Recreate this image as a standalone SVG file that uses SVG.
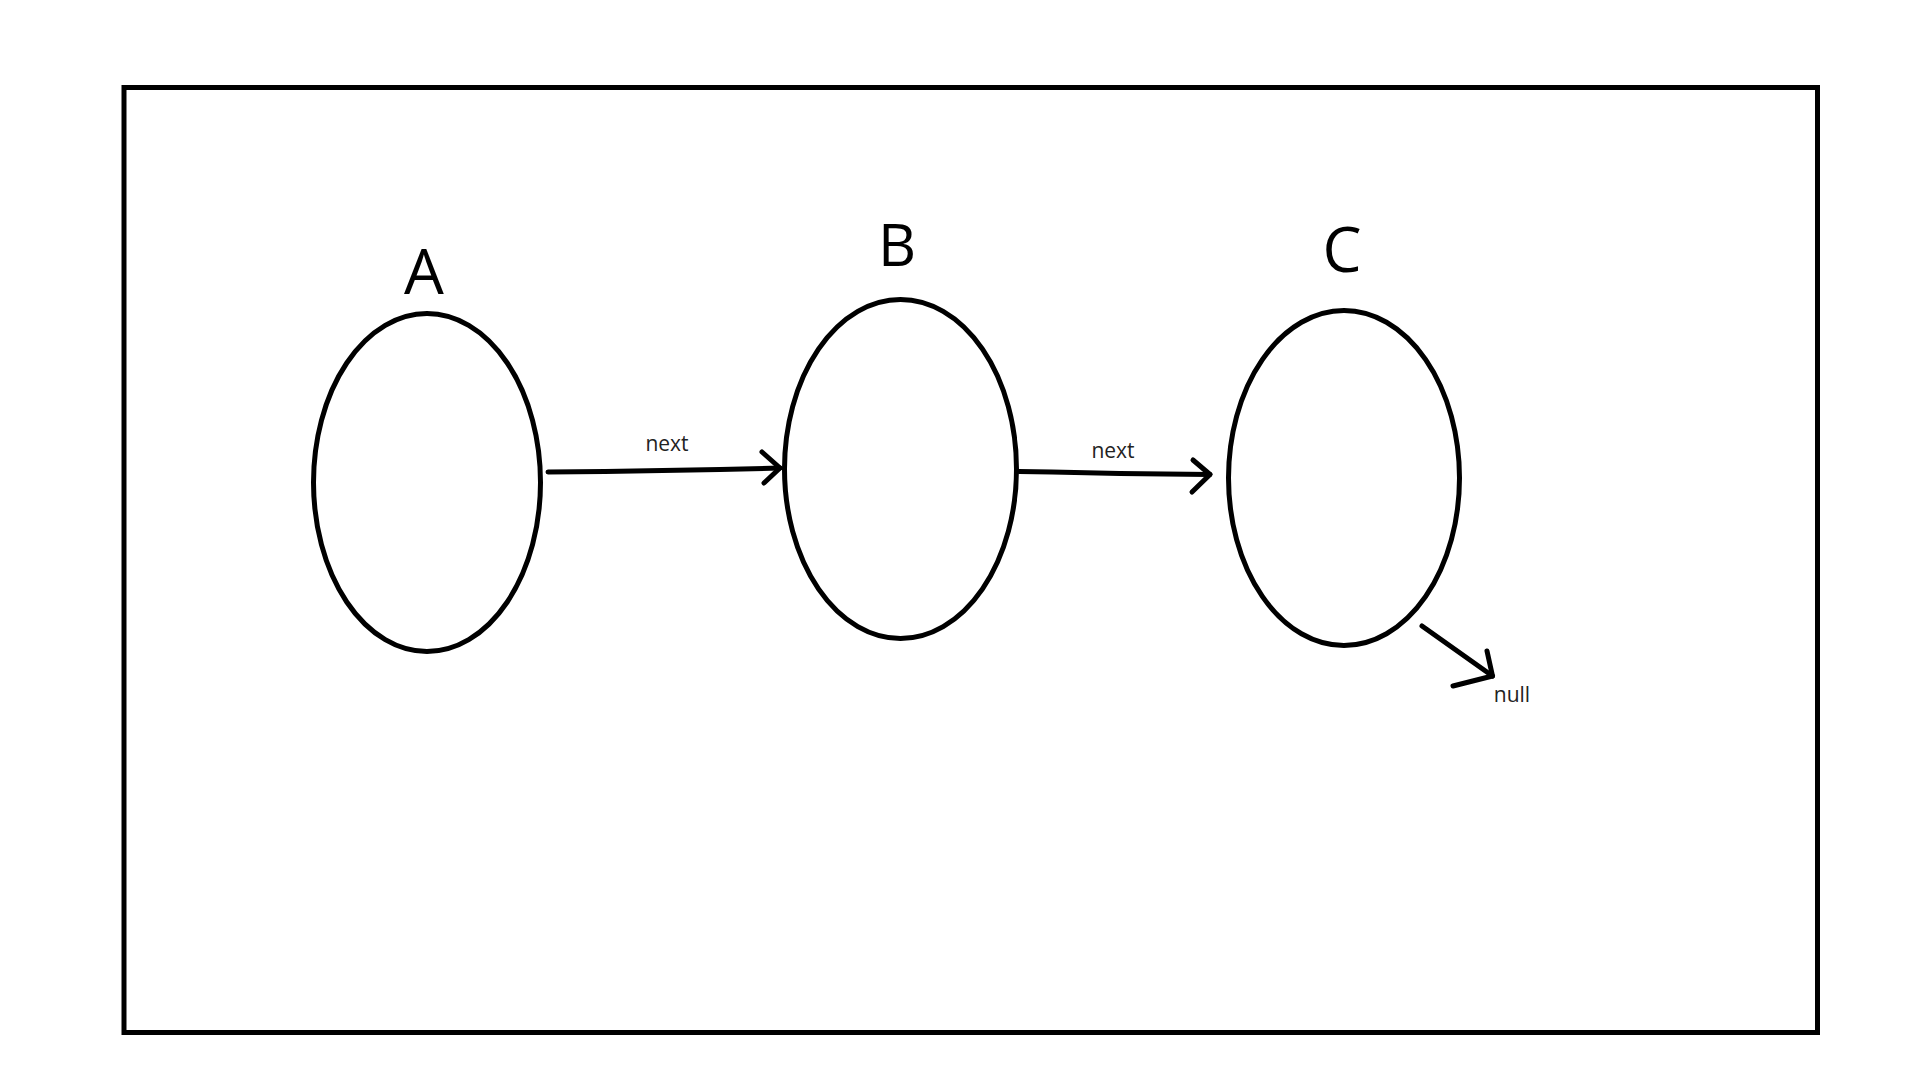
<svg xmlns="http://www.w3.org/2000/svg" width="1920" height="1080" viewBox="0 0 1920 1080">
  <style>
    .frame { fill: none; stroke: #000; stroke-width: 5; }
    .node { fill: none; stroke: #000; stroke-width: 5; }
    .title { font-family: "Open Sans", "Noto Sans", "DejaVu Sans", sans-serif; fill: #000; text-anchor: middle; }
    .lbl { font-family: "Open Sans", "Noto Sans", "DejaVu Sans", sans-serif; font-size: 21px; fill: #222; text-anchor: middle; }
    .edge { fill: none; stroke: #000; stroke-width: 5; stroke-linecap: round; stroke-linejoin: round; }
  </style>
  <rect width="1920" height="1080" fill="#fff"/>
  <rect class="frame" x="124" y="87.5" width="1693.5" height="945"/>

  <g id="node-a">
    <ellipse class="node" cx="427" cy="482.5" rx="113.5" ry="169"/>
    <text class="title" x="424" y="294" font-size="63">A</text>
  </g>
  <g id="node-b">
    <ellipse class="node" cx="900.5" cy="469" rx="116" ry="169.5"/>
    <text class="title" x="897" y="266" font-size="59">B</text>
  </g>
  <g id="node-c">
    <ellipse class="node" cx="1344" cy="478" rx="115.5" ry="167.5"/>
    <text class="title" x="1342" y="272" font-size="62">C</text>
  </g>

  <g id="connectors">
    <!-- A -> B -->
    <polyline class="edge" points="548,472 605,471.5 720,469.5 780,468"/>
    <polyline class="edge" points="762,452 780,468 764,483"/>
    <text class="lbl" x="667" y="451">next</text>
    <!-- B -> C -->
    <polyline class="edge" points="1019,471.5 1052,472 1120,473.5 1210,474.5"/>
    <polyline class="edge" points="1193,460 1210,474.5 1192,492"/>
    <text class="lbl" x="1113" y="458">next</text>
    <!-- C -> null -->
    <polyline class="edge" points="1422,626 1492.5,676"/>
    <polyline class="edge" points="1487,651 1492.5,676 1453,686"/>
    <text class="lbl" x="1512" y="702">null</text>
  </g>
</svg>
